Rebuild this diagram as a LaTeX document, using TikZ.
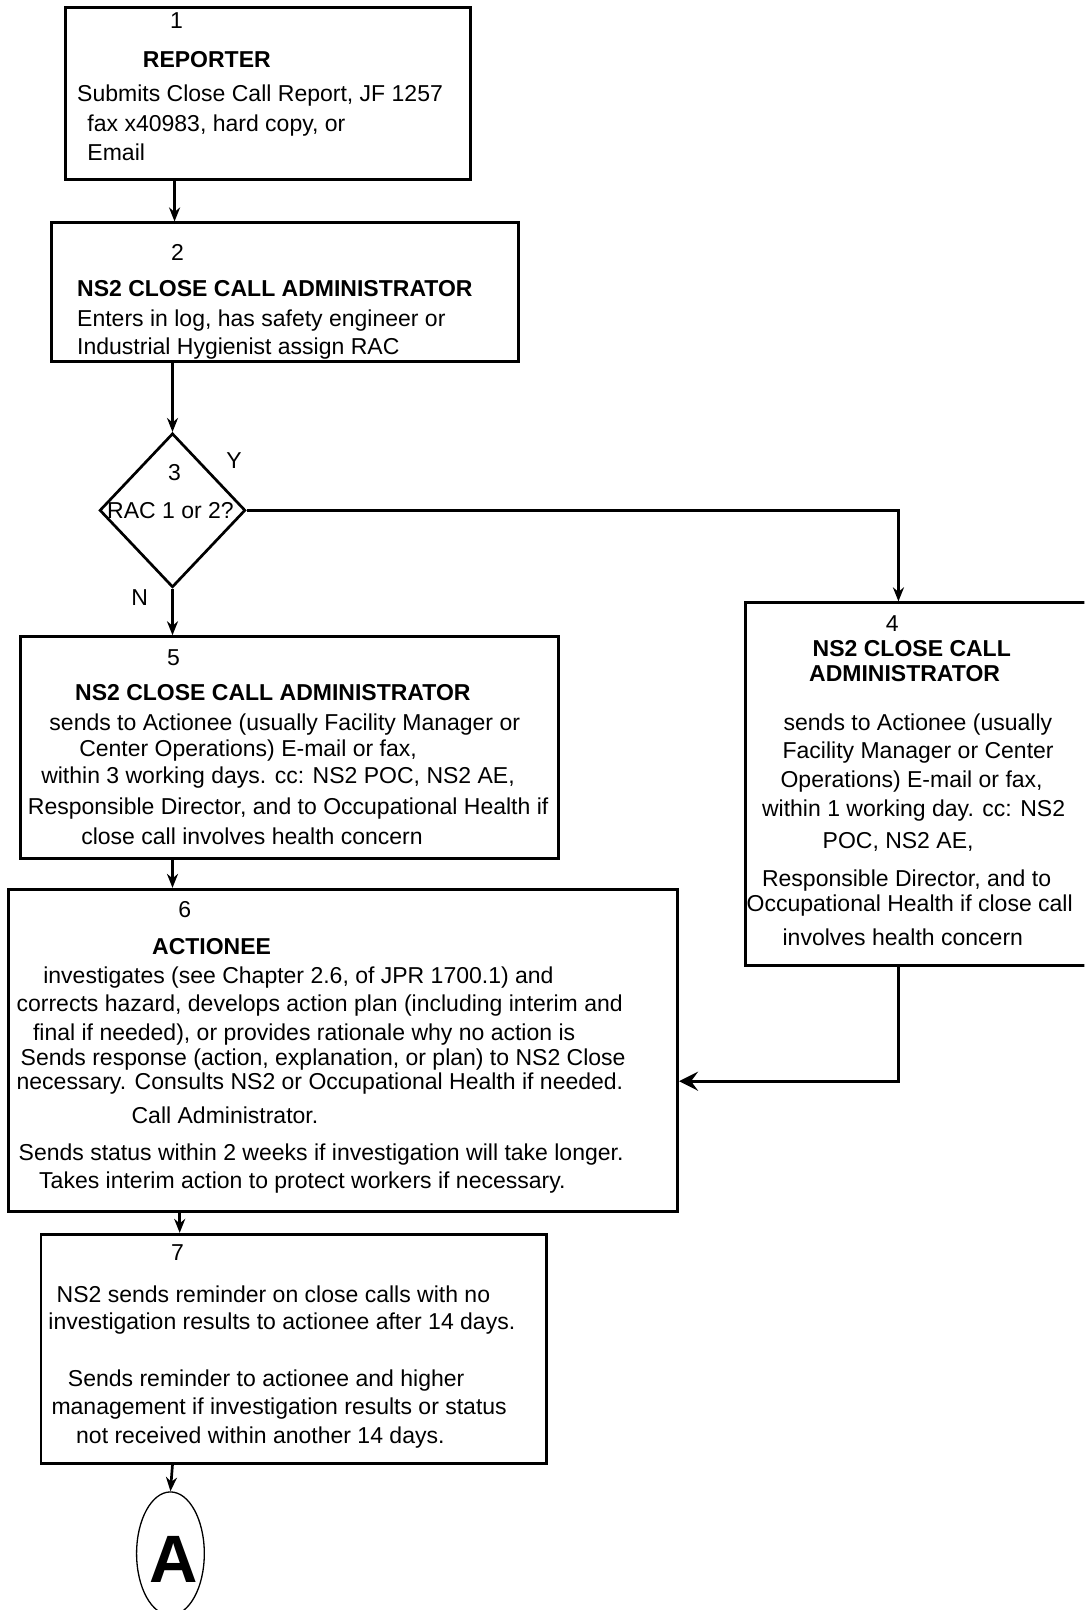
\documentclass[tikz,border=0pt]{standalone}
\usepackage{fontspec}
\setmainfont{Liberation Sans}
\usetikzlibrary{shapes.geometric,arrows.meta}
\begin{document}
\begin{tikzpicture}[x=1.0265pt,y=-1.0265pt,
  box/.style={draw, line width=2.7pt, inner sep=0pt},
  con/.style={line width=2.7pt},
  arr/.style={con, -{Stealth[length=14pt,width=11pt]}},
  bigarr/.style={con, -{Stealth[length=19pt,width=19pt,inset=7pt]}},
  txt/.style={anchor=west, inner sep=0pt, text height=16.5pt, text depth=0pt, font=\fontsize{23}{27}\selectfont},
  num/.style={txt, anchor=center},
  hd/.style={txt, font=\fontsize{23}{27}\selectfont\bfseries},
  hdc/.style={hd, anchor=center}]
\useasboundingbox (0,0) rectangle (1056,1568);
\clip (0,0) rectangle (1056,1568);
\fill[white] (0,0) rectangle (1056,1568);

% columns for connectors
\coordinate (colA) at (168,0);
\coordinate (colB) at (175,0);
\coordinate (colC) at (170,0);
\coordinate (col4) at (875,0);
\coordinate (row46) at (0,1053);

% shapes
\node[box, minimum width=404.4pt, minimum height=172.5pt] (b1) at (261,91) {};
\node[box, minimum width=467.1pt, minimum height=138.6pt] (b2) at (277.5,284.5) {};
\node[box, diamond, minimum width=145.8pt, minimum height=154pt] (d3) at (168,497) {};
\node[box, minimum width=537.9pt, minimum height=221.7pt] (b5) at (282,728) {};
\node[box, minimum width=353.1pt, minimum height=362.4pt] (b4) at (898,763.5) {};
\node[box, minimum width=669.3pt, minimum height=322.3pt] (b6) at (334,1023) {};
\node[box, minimum width=505pt, minimum height=228.9pt] (b7) at (286,1313.5) {};
\node[draw, ellipse, line width=1.3pt, inner sep=0pt, minimum width=67.7pt, minimum height=123.2pt] (eA) at (166,1513) {};
\node[inner sep=0pt, font=\fontsize{67}{67}\selectfont\bfseries] (tA) at (169.5,1519) {A};

% box 1
\node[num] (n1) at (172,20) {1};
\node[hd] (h1) at (139,58) {REPORTER};
\node[txt] (t1a) at (75,91) {Submits Close Call Report, JF 1257};
\node[txt] (t1b) at (85,120) {fax x40983, hard copy, or};
\node[txt] (t1c) at (85,148) {Email};

% box 2
\node[num] (n2) at (173,246) {2};
\node[hd] (h2) at (75,281) {NS2 CLOSE CALL ADMINISTRATOR};
\node[txt] (t2a) at (75,310) {Enters in log, has safety engineer or};
\node[txt] (t2b) at (75,337) {Industrial Hygienist assign RAC};

% decision 3
\node[num] (n3) at (170,460) {3};
\node[num] (t3) at (166,497) {RAC 1 or 2?};
\node[num] (ly) at (228,448) {Y};
\node[num] (ln) at (136,582) {N};

% box 5
\node[num] (n5) at (169,640) {5};
\node[hd] (h5) at (73,674) {NS2 CLOSE CALL ADMINISTRATOR};
\node[txt] (t5a) at (48,703) {sends to Actionee (usually Facility Manager or};
\node[txt] (t5b) at (77,729) {Center Operations) E-mail or fax,};
\node[txt] (t5c) at (40,755) {within 3 working days. cc: NS2 POC, NS2 AE,};
\node[txt] (t5d) at (27,785) {Responsible Director, and to Occupational Health if};
\node[txt] (t5e) at (79,814) {close call involves health concern};

% box 4
\node[num] (n4) at (869,607) {4};
\node[hdc] (h4a) at (888,631) {NS2 CLOSE CALL};
\node[hdc] (h4b) at (881,656) {ADMINISTRATOR};
\node[txt] (t4a) at (763,703) {sends to Actionee (usually};
\node[txt] (t4b) at (762,731) {Facility Manager or Center};
\node[txt] (t4c) at (760,759) {Operations) E-mail or fax,};
\node[txt] (t4d) at (742,787) {within 1 working day. cc: NS2};
\node[txt] (t4e) at (801,818) {POC, NS2 AE,};
\node[txt] (t4f) at (742,855) {Responsible Director, and to};
\node[txt] (t4g) at (727,880) {Occupational Health if close call};
\node[txt] (t4h) at (762,913) {involves health concern};

% box 6
\node[num] (n6) at (180,886) {6};
\node[hd] (h6) at (148,922) {ACTIONEE};
\node[txt] (t6a) at (42,950) {investigates (see Chapter 2.6, of JPR 1700.1) and};
\node[txt] (t6b) at (16,977) {corrects hazard, develops action plan (including interim and};
\node[txt] (t6c) at (32,1005) {final if needed), or provides rationale why no action is};
\node[txt] (t6d) at (20,1030) {Sends response (action, explanation, or plan) to NS2 Close};
\node[txt] (t6e) at (16,1053) {necessary. Consults NS2 or Occupational Health if needed.};
\node[txt] (t6f) at (128,1086) {Call Administrator.};
\node[txt] (t6g) at (18,1122) {Sends status within 2 weeks if investigation will take longer.};
\node[txt] (t6h) at (38,1149) {Takes interim action to protect workers if necessary.};

% box 7
\node[num] (n7) at (173,1220) {7};
\node[txt] (t7a) at (55,1260) {NS2 sends reminder on close calls with no};
\node[txt] (t7b) at (47,1287) {investigation results to actionee after 14 days.};
\node[txt] (t7c) at (66,1342) {Sends reminder to actionee and higher};
\node[txt] (t7d) at (50,1370) {management if investigation results or status};
\node[txt] (t7e) at (74,1398) {not received within another 14 days.};

% connectors
\draw[arr] (b1.south -| colC) -- (b2.north -| colC);
\draw[arr] (b2.south -| colA) -- (d3.north);
\draw[arr] (d3.east) -| (b4.north -| col4);
\draw[arr] (d3.south) -- (b5.north -| colA);
\draw[arr] (b5.south -| colA) -- (b6.north -| colA);
\draw[bigarr] (b4.south -| col4) |- (b6.east |- row46);
\draw[arr] (b6.south -| colB) -- (b7.north -| colB);
\draw[arr] (b7.south -| colA) -- (eA.north);
\end{tikzpicture}
\end{document}
